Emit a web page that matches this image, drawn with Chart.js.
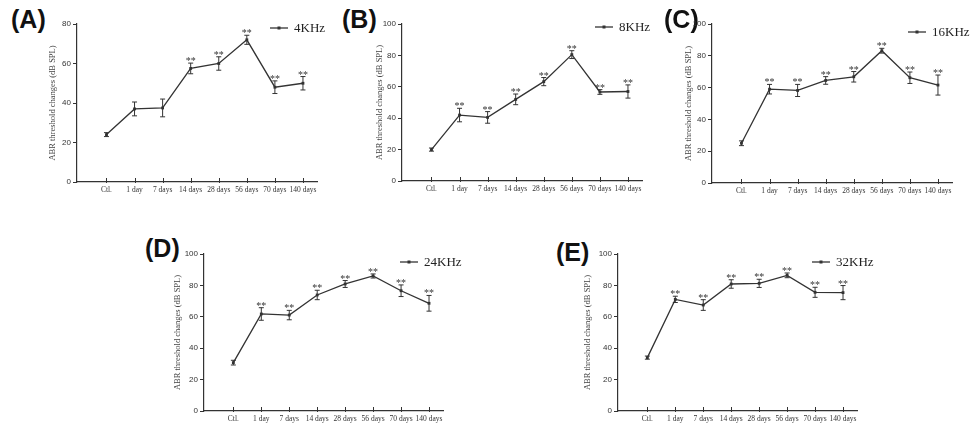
<!DOCTYPE html>
<html>
<head>
<meta charset="utf-8">
<script src="https://cdn.jsdelivr.net/npm/chart.js@4.4.0/dist/chart.umd.min.js"></script>
<style>
html, body { margin: 0; padding: 0; background: #fff; }
body { width: 978px; height: 426px; position: relative; overflow: hidden; }
canvas { position: absolute; }
.tag { position: absolute; font: bold 25px "Liberation Sans", Arial, sans-serif; line-height: 1; color: #111; }
</style>
</head>
<body>
<script>
// data
const categories = ['Ctl.', '1 day', '7 days', '14 days', '28 days', '56 days', '70 days', '140 days'];

const meanA = [24, 37, 37.5, 57.5, 60, 72, 48, 50];
const errA = [1, 3.5, 4.5, 2.7, 3.4, 2.3, 3.2, 3.4];
const starsA = [0, 0, 0, 1, 1, 1, 1, 1];

const meanB = [20, 42, 40.5, 52, 63.3, 80.5, 56.7, 57];
const errB = [1, 4.3, 3.7, 3.4, 2.6, 2.5, 1.5, 4.2];
const starsB = [0, 1, 1, 1, 1, 1, 1, 1];

const meanC = [25, 59, 58.2, 64.5, 66.8, 83.2, 66.2, 61.6];
const errC = [1.5, 3, 3.8, 2.4, 3.3, 1.5, 3.6, 6.3];
const starsC = [0, 1, 1, 1, 1, 1, 1, 1];

const meanD = [30.8, 61.8, 61.1, 73.9, 80.9, 86, 76.6, 68.6];
const errD = [1.5, 4, 3, 3, 2.2, 1.3, 3.7, 5];
const starsD = [0, 1, 1, 1, 1, 1, 1, 1];

const meanE = [34, 71.1, 67.5, 80.9, 81.3, 86.4, 75.6, 75.4];
const errE = [1, 2, 3.4, 2.7, 2.6, 1.5, 3.2, 4.5];
const starsE = [0, 1, 1, 1, 1, 1, 1, 1];

const yTitle = 'ABR threshold changes (dB SPL)';
const INK = '#333';

const panels = [
  { tag: '(A)', label: '4KHz', mean: meanA, err: errA, stars: starsA, yMax: 80,
    box: [0, 0, 335, 200], area: [77, 24, 317, 182], titleX: 53, legend: [270, 28], tagPos: [11, 7] },
  { tag: '(B)', label: '8KHz', mean: meanB, err: errB, stars: starsB, yMax: 100,
    box: [320, 0, 340, 200], area: [402, 24, 642, 181], titleX: 380, legend: [595, 27], tagPos: [342, 7] },
  { tag: '(C)', label: '16KHz', mean: meanC, err: errC, stars: starsC, yMax: 100,
    box: [640, 0, 338, 200], area: [712, 24, 952, 183], titleX: 689, legend: [908, 32], tagPos: [664, 7] },
  { tag: '(D)', label: '24KHz', mean: meanD, err: errD, stars: starsD, yMax: 100,
    box: [140, 210, 330, 216], area: [204, 254, 443, 411], titleX: 178, legend: [400, 262], tagPos: [145, 236] },
  { tag: '(E)', label: '32KHz', mean: meanE, err: errE, stars: starsE, yMax: 100,
    box: [540, 210, 340, 216], area: [618, 254, 857, 411], titleX: 588, legend: [812, 262], tagPos: [556, 240] },
];

const XH = 14;

function makePanel(p) {
  const [bx, by, bw, bh] = p.box;
  const [l, t, r, b] = p.area;
  const scaleLeft = p.titleX - 5.1;
  const yw = l - scaleLeft;

  const tag = document.createElement('div');
  tag.className = 'tag';
  tag.textContent = p.tag;
  tag.style.left = p.tagPos[0] + 'px';
  tag.style.top = p.tagPos[1] + 'px';
  document.body.appendChild(tag);

  const canvas = document.createElement('canvas');
  canvas.width = bw;
  canvas.height = bh;
  canvas.style.left = bx + 'px';
  canvas.style.top = by + 'px';
  document.body.appendChild(canvas);

  const extras = {
    id: 'extras',
    afterDatasetsDraw(chart) {
      const { ctx, scales: { x, y } } = chart;
      ctx.save();
      ctx.strokeStyle = INK;
      ctx.fillStyle = INK;
      ctx.lineWidth = 1;

      // x tick marks sit on top of the axis line (prism style)
      const axisY = y.getPixelForValue(0);
      ctx.beginPath();
      categories.forEach((_, i) => {
        const px = Math.round(x.getPixelForValue(i)) + 0.5;
        ctx.moveTo(px, axisY - 4);
        ctx.lineTo(px, axisY + 1);
      });
      ctx.stroke();

      ctx.font = '10px "Liberation Serif"';
      ctx.textAlign = 'center';
      ctx.textBaseline = 'alphabetic';
      p.mean.forEach((v, i) => {
        const px = x.getPixelForValue(i);
        const top = y.getPixelForValue(v + p.err[i]);
        const bot = y.getPixelForValue(v - p.err[i]);
        ctx.beginPath();
        ctx.moveTo(px, top); ctx.lineTo(px, bot);
        ctx.moveTo(px - 2.5, top); ctx.lineTo(px + 2.5, top);
        ctx.moveTo(px - 2.5, bot); ctx.lineTo(px + 2.5, bot);
        ctx.stroke();
        if (p.stars[i]) ctx.fillText('**', px, top + 1);
      });

      // legend swatch + label
      const lx = p.legend[0] - bx, ly = p.legend[1] - by;
      ctx.lineWidth = 1.3;
      ctx.beginPath();
      ctx.moveTo(lx, ly); ctx.lineTo(lx + 18, ly);
      ctx.stroke();
      ctx.fillRect(lx + 7.5, ly - 1.5, 3, 3);
      ctx.font = '13px "Liberation Serif"';
      ctx.textAlign = 'left';
      ctx.textBaseline = 'middle';
      ctx.fillStyle = '#222';
      ctx.fillText(chart.data.datasets[0].label, lx + 24, ly + 1);
      ctx.restore();
    }
  };

  new Chart(canvas, {
    type: 'line',
    data: {
      datasets: [{
        label: p.label,
        data: p.mean.map((v, i) => ({ x: i, y: v })),
        borderColor: INK,
        borderWidth: 1.3,
        pointStyle: 'rect',
        pointRadius: 2,
        pointBackgroundColor: INK,
        pointBorderWidth: 0,
        tension: 0
      }]
    },
    options: {
      responsive: false,
      animation: false,
      layout: {
        autoPadding: false,
        padding: { left: scaleLeft - bx, top: t - by, right: bx + bw - r, bottom: by + bh - b - XH }
      },
      plugins: { legend: { display: false }, tooltip: { enabled: false } },
      scales: {
        x: {
          type: 'linear',
          min: -1.05,
          max: 7.5,
          afterBuildTicks: s => { s.ticks = categories.map((_, i) => ({ value: i })); },
          afterFit: s => { s.height = XH; },
          ticks: {
            callback: v => categories[v],
            font: { family: 'Liberation Serif', size: 7.5 },
            color: INK, padding: 4, maxRotation: 0, autoSkip: false
          },
          grid: { display: false, drawTicks: false },
          border: { display: true, color: INK, width: 1.2 }
        },
        y: {
          min: 0,
          max: p.yMax,
          afterFit: s => { s.width = yw; },
          ticks: {
            stepSize: 20,
            font: { family: 'Liberation Sans', size: 8 },
            color: INK, padding: 2
          },
          grid: { drawOnChartArea: false, color: INK, tickLength: 4, lineWidth: 1 },
          border: { color: INK, width: 1.2 },
          title: {
            display: true, text: yTitle, color: '#444',
            font: { family: 'Liberation Serif', size: 8.5 },
            padding: { top: 0, bottom: 0 }
          }
        }
      }
    },
    plugins: [extras]
  });
}

panels.forEach(makePanel);
</script>
</body>
</html>
